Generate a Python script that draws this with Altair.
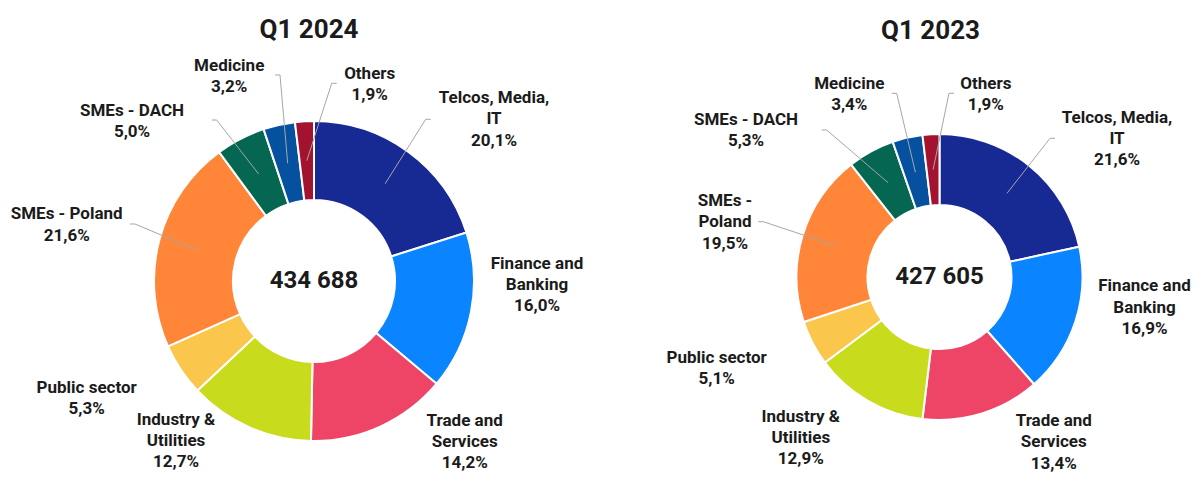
import math
import altair as alt
import pandas as pd

# ---------------- data ----------------
categories = [
    "Telcos, Media, IT", "Finance and Banking", "Trade and Services",
    "Industry & Utilities", "Public sector", "SMEs - Poland",
    "SMEs - DACH", "Medicine", "Others",
]
share_q1_2024 = [20.1, 16.0, 14.2, 12.7, 5.3, 21.6, 5.0, 3.2, 1.9]
share_q1_2023 = [21.6, 16.9, 13.4, 12.9, 5.1, 19.5, 5.3, 3.4, 1.9]
names_q1_2024 = [
    "Telcos, Media,\nIT", "Finance and\nBanking", "Trade and\nServices",
    "Industry &\nUtilities", "Public sector", "SMEs - Poland",
    "SMEs - DACH", "Medicine", "Others",
]
names_q1_2023 = [
    "Telcos, Media,\nIT", "Finance and\nBanking", "Trade and\nServices",
    "Industry &\nUtilities", "Public sector", "SMEs -\nPoland",
    "SMEs - DACH", "Medicine", "Others",
]
periods = ["Q1 2024", "Q1 2023"]
totals = ["434 688", "427 605"]

palette = ["#172A93", "#0B85FF", "#EE4567", "#C9DB1D", "#FAC64C",
           "#FF8539", "#056651", "#0551A0", "#A31330"]

# ---------------- layout (pixels in the plot area) ----------------
LINE_H = 21.3
layout = [
    dict(cx=306, cy=273, outer=160, inner=81, title_dx=-5, title_y=22,
         label_off=[(180, -161.5), (223, 4), (150.7, 161), (-138, 160),
                    (-227.3, 117.8), (-247.3, -56), (-182, -159.2),
                    (-84.8, -204.5), (55.7, -196.6)],
         leaders={0: (116.7, -161.7, 1), 5: (-184, -57, -1),
                  6: (-102.3, -161, -1), 7: (-39, -206, -1),
                  8: (22.7, -197.7, 1)}),
    dict(cx=931.5, cy=269, outer=143, inner=72, title_dx=-9, title_y=22.5,
         label_off=[(177.5, -137.8), (205, 30.7), (114.3, 165.4),
                    (-138.7, 160.8), (-222.8, 91.8), (-214.5, -54.5),
                    (-193.5, -146.7), (-90.2, -182.2), (46.3, -182.5)],
         leaders={0: (115.5, -138.7, 1), 5: (-181.2, -55.3, -1),
                  6: (-117.8, -147, -1), 7: (-47.8, -183.7, -1),
                  8: (14.5, -183.7, 1)}),
]

shares = [share_q1_2024, share_q1_2023]
names = [names_q1_2024, names_q1_2023]


def pct(v):
    return f"{v:.1f}".replace(".", ",") + "%"


arc_rows, label_rows, leader_rows, center_rows = [], [], [], []
for p, period in enumerate(periods):
    L = layout[p]
    vals = shares[p]
    tot = sum(vals)
    cum = 0.0
    rm = (L["outer"] + L["inner"]) / 2
    for i, cat in enumerate(categories):
        v = vals[i]
        arc_rows.append(dict(period=period, category=cat, value=v, order=i))
        dx, dy = L["label_off"][i]
        text = names[p][i] + "\n" + pct(v)
        n_lines = text.count("\n") + 1
        label_rows.append(dict(period=period, text=text,
                               x=L["cx"] + dx,
                               y=L["cy"] + dy - (n_lines - 1) * LINE_H / 2))
        mid = 2 * math.pi * (cum + v / 2) / tot
        cum += v
        if i in L["leaders"]:
            ex, ey, side = L["leaders"][i]
            key = f"{period}-{cat}"
            pts = [
                (L["cx"] + rm * math.sin(mid), L["cy"] - rm * math.cos(mid)),
                (L["cx"] + ex - side * 5, L["cy"] + ey),
                (L["cx"] + ex, L["cy"] + ey),
            ]
            for s, (px, py) in enumerate(pts):
                leader_rows.append(dict(key=key, step=s, x=px, y=py))
    center_rows.append(dict(period=period, text=totals[p], x=L["cx"], y=L["cy"], kind="total"))
    center_rows.append(dict(period=period, text=period, x=L["cx"] + L["title_dx"], y=L["title_y"], kind="title"))

arcs_df = pd.DataFrame(arc_rows)
labels_df = pd.DataFrame(label_rows)
leaders_df = pd.DataFrame(leader_rows)
center_df = pd.DataFrame(center_rows)

FONT = "Roboto"
TXT = "#1B1B1B"

layers = []
for p, period in enumerate(periods):
    L = layout[p]
    layers.append(
        alt.Chart(arcs_df)
        .transform_filter(alt.datum.period == period)
        .mark_arc(outerRadius=L["outer"], innerRadius=L["inner"],
                  stroke="white", strokeWidth=2)
        .encode(
            theta=alt.Theta("value:Q", stack=True),
            color=alt.Color("category:N",
                            scale=alt.Scale(domain=categories, range=palette),
                            legend=None),
            order=alt.Order("order:Q"),
            x=alt.value(L["cx"]),
            y=alt.value(L["cy"]),
        )
    )

leaders = alt.Chart(leaders_df).mark_line(color="#A6A6A6", strokeWidth=1).encode(
    x=alt.X("x:Q", scale=None, axis=None),
    y=alt.Y("y:Q", scale=None, axis=None),
    detail="key:N",
    order="step:Q",
)

labels = alt.Chart(labels_df).mark_text(
    font=FONT, fontWeight="bold", fontSize=17, lineHeight=LINE_H,
    align="center", baseline="middle", color=TXT, lineBreak="\n",
).encode(
    x=alt.X("x:Q", scale=None, axis=None),
    y=alt.Y("y:Q", scale=None, axis=None),
    text="text:N",
)

totals_layer = alt.Chart(center_df).transform_filter(alt.datum.kind == "total").mark_text(
    font=FONT, fontWeight="bold", fontSize=24, align="center", baseline="middle", color=TXT,
).encode(
    x=alt.X("x:Q", scale=None, axis=None),
    y=alt.Y("y:Q", scale=None, axis=None),
    text="text:N",
)

titles_layer = alt.Chart(center_df).transform_filter(alt.datum.kind == "title").mark_text(
    font=FONT, fontWeight="bold", fontSize=26, align="center", baseline="middle", color=TXT,
).encode(
    x=alt.X("x:Q", scale=None, axis=None),
    y=alt.Y("y:Q", scale=None, axis=None),
    text="text:N",
)

chart = alt.layer(*layers, leaders, labels, totals_layer, titles_layer).properties(
    width=1186, height=467,
    autosize=alt.AutoSizeParams(type="none"),
    padding=0,
    background="white",
).configure_view(stroke="transparent", strokeWidth=0)

chart.save("out.html", embed_options={"renderer": "svg", "actions": False})
